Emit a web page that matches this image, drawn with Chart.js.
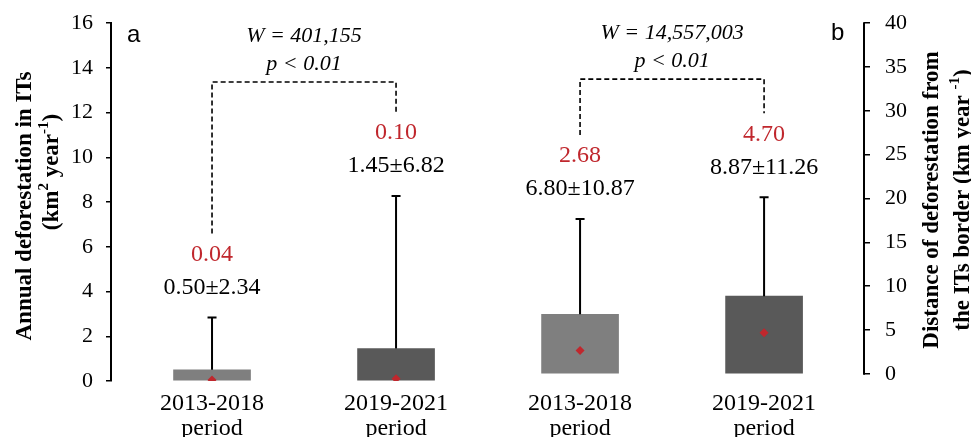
<!DOCTYPE html>
<html>
<head>
<meta charset="utf-8">
<script src="https://cdn.jsdelivr.net/npm/chart.js@4/dist/chart.umd.min.js"></script>
<style>
  html, body { margin: 0; padding: 0; background: #fff; }
  #wrap { width: 971px; height: 437px; }
</style>
</head>
<body>
<div id="wrap"><canvas id="c" width="971" height="437"></canvas></div>
<script>
// Deforestation in indigenous territories: panel a (area), panel b (distance)
const periods      = ['2013-2018', '2019-2021', '2013-2018', '2019-2021'];
const meanValues   = [0.50, 1.45, 6.80, 8.87];
const sdValues     = [2.34, 6.82, 10.87, 11.26];
const medianValues = [0.04, 0.10, 2.68, 4.70];
const panelAxis    = ['y', 'y', 'y2', 'y2'];
const barColors    = ['#7f7f7f', '#595959', '#7f7f7f', '#595959'];
const wStats       = ['W = 401,155', 'W = 14,557,003'];
const pStats       = ['p < 0.01', 'p < 0.01'];

const SERIF = "'Liberation Serif', 'Times New Roman', serif";
const SANS = "'Liberation Sans', Arial, sans-serif";
const RED = '#c0272d';

function pointsFor(axis, values) {
  return values.map((v, i) => ({ x: i, y: v })).filter((_, i) => panelAxis[i] === axis);
}
function colorsFor(axis) {
  return barColors.filter((_, i) => panelAxis[i] === axis);
}

// Text drawn bottom-to-top with optional superscript parts
function drawVertical(ctx, parts, cx, cy, size) {
  ctx.save();
  ctx.translate(cx, cy);
  ctx.rotate(-Math.PI / 2);
  const main = `bold ${size}px ${SERIF}`;
  const sup = `bold ${Math.round(size * 0.65)}px ${SERIF}`;
  let total = 0;
  parts.forEach(p => { ctx.font = p.sup ? sup : main; p.w = ctx.measureText(p.t).width; total += p.w; });
  let xx = -total / 2;
  ctx.textAlign = 'left';
  ctx.textBaseline = 'alphabetic';
  ctx.fillStyle = '#000';
  parts.forEach(p => {
    ctx.font = p.sup ? sup : main;
    ctx.fillText(p.t, xx, p.sup ? size * 0.33 - size * 0.4 : size * 0.33);
    xx += p.w;
  });
  ctx.restore();
}

const annotate = {
  id: 'annotate',
  afterDatasetsDraw(chart, args, opts) {
    const { ctx, chartArea, scales } = chart;
    const xs = scales.x;
    ctx.save();

    // right axis line spans 0..40 only
    const r = scales.y2;
    ctx.strokeStyle = '#000';
    ctx.lineWidth = 2;
    ctx.beginPath();
    ctx.moveTo(chartArea.right, r.getPixelForValue(0) + 0.75);
    ctx.lineTo(chartArea.right, r.getPixelForValue(40) - 0.75);
    ctx.stroke();

    // whiskers (mean + sd) and value labels
    const tops = [];
    meanValues.forEach((m, i) => {
      const ys = scales[panelAxis[i]];
      const px = xs.getPixelForValue(i);
      const y0 = ys.getPixelForValue(m);
      const y1 = ys.getPixelForValue(m + sdValues[i]);
      tops.push(y1);
      ctx.strokeStyle = '#000';
      ctx.lineWidth = 2;
      ctx.setLineDash([]);
      ctx.beginPath();
      ctx.moveTo(px, y0);
      ctx.lineTo(px, y1);
      ctx.moveTo(px - 4.5, y1);
      ctx.lineTo(px + 4.5, y1);
      ctx.stroke();

      ctx.font = `24px ${SERIF}`;
      ctx.textAlign = 'center';
      ctx.textBaseline = 'middle';
      ctx.fillStyle = '#000';
      ctx.fillText(`${m.toFixed(2)}±${sdValues[i].toFixed(2)}`, px, y1 - opts.meanGap);
      ctx.fillStyle = RED;
      ctx.fillText(medianValues[i].toFixed(2), px, y1 - opts.medianGap);
    });

    // comparison brackets with test statistics
    opts.brackets.forEach((b, k) => {
      const ys = scales[b.axis];
      const yTop = ys.getPixelForValue(b.value);
      const xa = xs.getPixelForValue(b.from);
      const xb = xs.getPixelForValue(b.to);
      ctx.strokeStyle = '#000';
      ctx.lineWidth = 1.6;
      ctx.setLineDash([5, 3]);
      ctx.beginPath();
      ctx.moveTo(xa, tops[b.from] - opts.legGap);
      ctx.lineTo(xa, yTop);
      ctx.lineTo(xb, yTop);
      ctx.lineTo(xb, tops[b.to] - opts.legGap);
      ctx.stroke();
      ctx.setLineDash([]);

      ctx.font = `italic 22px ${SERIF}`;
      ctx.textAlign = 'center';
      ctx.textBaseline = 'middle';
      ctx.fillStyle = '#000';
      const mid = (xa + xb) / 2;
      ctx.fillText(wStats[k], mid, yTop - 46);
      ctx.fillText(pStats[k], mid, yTop - 18);
    });

    // panel letters
    ctx.font = `24px ${SANS}`;
    ctx.textAlign = 'left';
    ctx.textBaseline = 'middle';
    ctx.fillStyle = '#000';
    ctx.fillText('a', chartArea.left + 16, 35);
    ctx.fillText('b', chartArea.right - 33, 33);

    // axis titles
    drawVertical(ctx, [{ t: 'Annual deforestation in ITs' }], 23, 206, 23);
    drawVertical(ctx, [{ t: '(km' }, { t: '2', sup: true }, { t: ' year' }, { t: '-1', sup: true }, { t: ')' }], 50, 172, 23);
    drawVertical(ctx, [{ t: 'Distance of deforestation from' }], 930, 200, 23);
    drawVertical(ctx, [{ t: 'the ITs border (km year ' }, { t: '-1', sup: true }, { t: ')' }], 961, 200, 23);

    ctx.restore();
  }
};

// fixed box sizes for the vertical scales, without label overhang padding
const fitVertical = width => s => {
  s.width = width;
  s.paddingTop = 0;
  s.paddingBottom = 0;
};

new Chart(document.getElementById('c'), {
  type: 'bar',
  data: {
    datasets: [
      { type: 'scatter', data: pointsFor('y', medianValues), yAxisID: 'y', order: 1,
        pointStyle: 'rectRot', radius: 4.5, backgroundColor: RED, borderColor: RED, borderWidth: 0 },
      { type: 'scatter', data: pointsFor('y2', medianValues), yAxisID: 'y2', order: 1,
        pointStyle: 'rectRot', radius: 4.5, backgroundColor: RED, borderColor: RED, borderWidth: 0 },
      { data: pointsFor('y', meanValues), yAxisID: 'y', order: 2, grouped: false,
        barThickness: 77, backgroundColor: colorsFor('y'), borderWidth: 0 },
      { data: pointsFor('y2', meanValues), yAxisID: 'y2', order: 2, grouped: false,
        barThickness: 77, backgroundColor: colorsFor('y2'), borderWidth: 0 }
    ]
  },
  options: {
    responsive: false,
    animation: false,
    devicePixelRatio: 1,
    layout: { padding: { top: 23, left: 0, right: 0, bottom: 0 } },
    plugins: {
      legend: { display: false },
      tooltip: { enabled: false },
      annotate: {
        meanGap: 30,
        medianGap: 63,
        legGap: 84,
        brackets: [
          { axis: 'y', value: 13.36, from: 0, to: 1 },
          { axis: 'y2', value: 33.6, from: 2, to: 3 }
        ]
      }
    },
    scales: {
      x: {
        type: 'linear',
        offset: false,
        min: -0.549,
        max: 3.543,
        grid: { display: false },
        border: { display: false },
        afterBuildTicks: s => { s.ticks = periods.map((_, i) => ({ value: i })); },
        afterFit: s => { s.height = 56; s.paddingLeft = 0; s.paddingRight = 0; },
        ticks: {
          autoSkip: false,
          maxRotation: 0,
          padding: 2,
          color: '#000',
          font: { family: SERIF, size: 24, lineHeight: 1.05 },
          callback: v => [periods[v], 'period']
        }
      },
      y: {
        position: 'left',
        min: 0,
        max: 16,
        afterFit: fitVertical(111),
        ticks: { stepSize: 2, padding: 13, color: '#000', font: { family: SERIF, size: 22 } },
        grid: { drawOnChartArea: false, tickLength: 5, color: '#000', lineWidth: 1.5 },
        border: { color: '#000', width: 2 }
      },
      y2: {
        position: 'right',
        min: -0.8,
        max: 40,
        afterFit: fitVertical(107),
        afterBuildTicks: s => { s.ticks = s.ticks.filter(t => t.value >= 0); },
        ticks: { stepSize: 5, includeBounds: false, padding: 15, color: '#000', font: { family: SERIF, size: 22 } },
        grid: { drawOnChartArea: false, tickLength: 6, color: '#000', lineWidth: 1.5 },
        border: { display: false }
      }
    }
  },
  plugins: [annotate]
});
</script>
</body>
</html>
